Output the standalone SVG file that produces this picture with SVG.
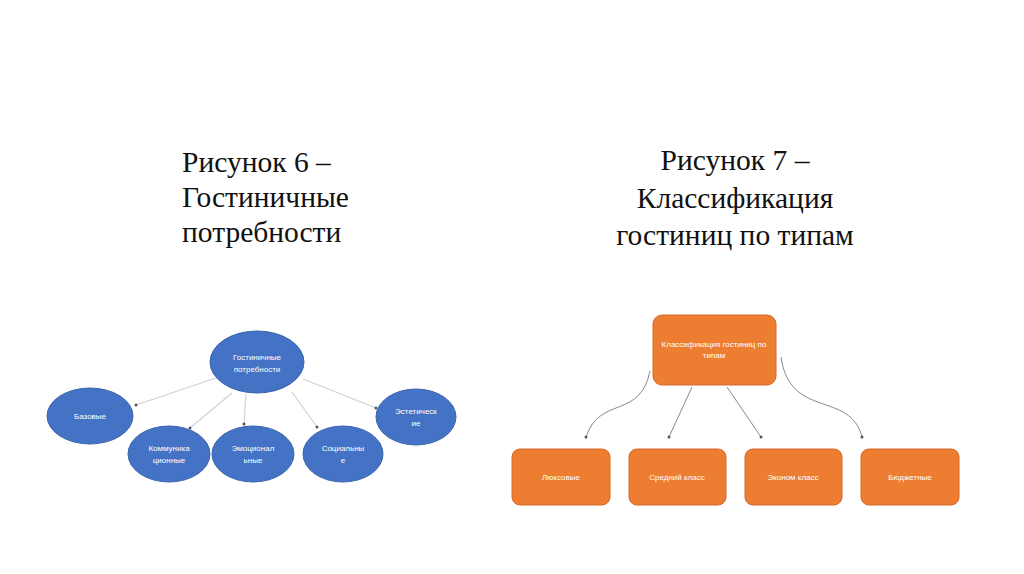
<svg xmlns="http://www.w3.org/2000/svg" width="1024" height="574" viewBox="0 0 1024 574">
<defs>
<marker id="dot" viewBox="0 0 4 4" refX="2" refY="2" markerWidth="4" markerHeight="4" markerUnits="userSpaceOnUse"><circle cx="2" cy="2" r="1.5" fill="#555"/></marker>
<style>
.t{font-family:"Liberation Serif",serif;font-size:29.5px;fill:#111}
.e{fill:#4472c4;stroke:#3a64ad;stroke-width:1}
.r{fill:#ed7d31;stroke:#d5692a;stroke-width:1}
.w{font-family:"Liberation Sans",Arial,sans-serif;font-size:8px;fill:#fff;text-anchor:middle}
.c{fill:none;stroke:#ccd2dd;stroke-width:1.2;marker-end:url(#dot)}
.c2{fill:none;stroke:#888;stroke-width:1;marker-end:url(#dot)}
</style>
</defs>
<rect width="1024" height="574" fill="#fff"/>
<text class="t" x="182" y="172">Рисунок 6 –</text>
<text class="t" x="182" y="207">Гостиничные</text>
<text class="t" x="182" y="242">потребности</text>
<text class="t" x="735" y="170" text-anchor="middle">Рисунок 7 –</text>
<text class="t" x="735" y="208" text-anchor="middle">Классификация</text>
<text class="t" x="735" y="245" text-anchor="middle">гостиниц по типам</text>
<g id="connectors">
<line class="c" x1="216" y1="378" x2="136" y2="405"/>
<line class="c" x1="232" y1="393" x2="190" y2="428"/>
<line class="c" x1="246" y1="394" x2="244" y2="424"/>
<line class="c" x1="292" y1="392" x2="317" y2="427"/>
<line class="c" x1="303" y1="379" x2="376" y2="408"/>
<path class="c2" d="M650,371 C640,420 600,395 586,437"/>
<line class="c2" x1="692" y1="387" x2="669" y2="437"/>
<line class="c2" x1="727" y1="387" x2="761" y2="437"/>
<path class="c2" d="M781,357 C790,420 850,390 862,437"/>
</g>
<g id="n-center"><ellipse class="e" cx="257" cy="362" rx="47" ry="31"/><text class="w" x="257" y="360">Гостиничные</text><text class="w" x="257" y="372">потребности</text></g>
<g id="n-base"><ellipse class="e" cx="90" cy="416" rx="43" ry="28"/><text class="w" x="90" y="419">Базовые</text></g>
<g id="n-comm"><ellipse class="e" cx="169" cy="454" rx="41" ry="28"/><text class="w" x="169" y="451">Коммуника</text><text class="w" x="169" y="463">ционные</text></g>
<g id="n-emo"><ellipse class="e" cx="253" cy="454" rx="41" ry="28"/><text class="w" x="253" y="451">Эмоционал</text><text class="w" x="253" y="463">ьные</text></g>
<g id="n-soc"><ellipse class="e" cx="343" cy="454" rx="40" ry="28"/><text class="w" x="343" y="451">Социальны</text><text class="w" x="343" y="463">е</text></g>
<g id="n-est"><ellipse class="e" cx="416" cy="417" rx="40" ry="28"/><text class="w" x="416" y="414">Эстетическ</text><text class="w" x="416" y="426">ие</text></g>
<g id="n-class"><rect class="r" x="653" y="315" width="123" height="70" rx="9"/><text class="w" x="714" y="347">Классификация гостиниц по</text><text class="w" x="714" y="358">типам</text></g>
<g id="n-lux"><rect class="r" x="512" y="449" width="98" height="56" rx="8"/><text class="w" x="561" y="480">Люксовые</text></g>
<g id="n-mid"><rect class="r" x="629" y="449" width="97" height="56" rx="8"/><text class="w" x="677" y="480">Средний класс</text></g>
<g id="n-eco"><rect class="r" x="745" y="449" width="97" height="56" rx="8"/><text class="w" x="793" y="480">Эконом класс</text></g>
<g id="n-bud"><rect class="r" x="861" y="449" width="98" height="56" rx="8"/><text class="w" x="910" y="480">Бюджетные</text></g>
</svg>
